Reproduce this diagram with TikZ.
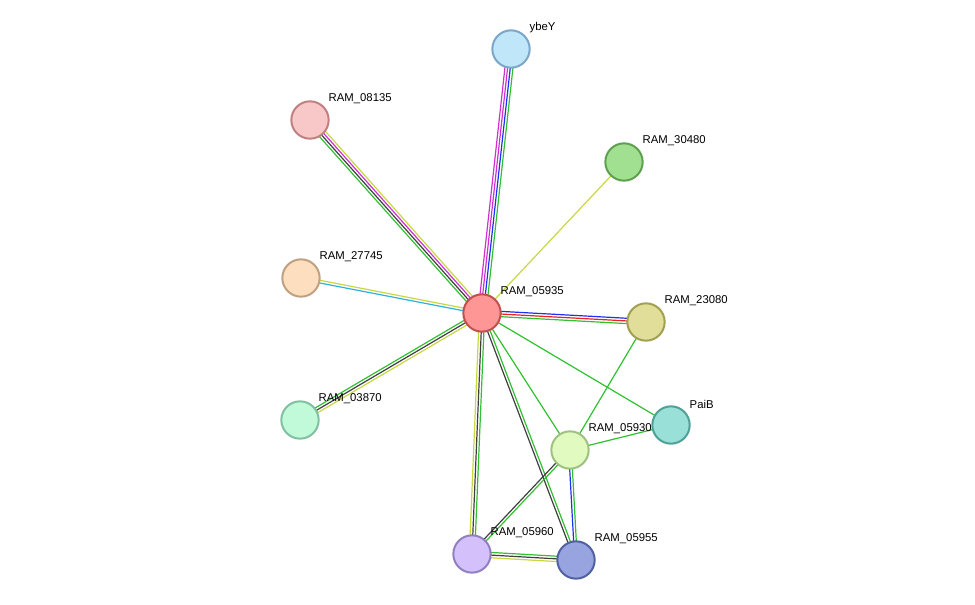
\documentclass[tikz,border=0pt]{standalone}
\usepackage{fontspec}
\setmainfont{Liberation Sans}
\usetikzlibrary{calc}
\definecolor{eyel}{HTML}{C8D840}
\definecolor{egrn}{HTML}{30C030}
\definecolor{eblu}{HTML}{2030F0}
\definecolor{eblk}{HTML}{404040}
\definecolor{emag}{HTML}{D030D0}
\definecolor{ered}{HTML}{F02020}
\definecolor{ecya}{HTML}{30B0E0}
\tikzset{
  prot/.style={circle,draw,line width=1.5pt,minimum size=28pt,inner sep=0pt},
  lbl/.style={anchor=west,font=\fontsize{8.5}{10}\selectfont}
}
\begin{document}
\begin{tikzpicture}[x=0.75pt,y=-0.75pt]
	\useasboundingbox (0,0) rectangle (975,605);
	\coordinate (c) at (482,313);
	\coordinate (ybeY) at (511,49);
	\coordinate (r08135) at (310,120);
	\coordinate (r30480) at (624,162);
	\coordinate (r27745) at (301,278);
	\coordinate (r23080) at (646,322);
	\coordinate (r03870) at (300,420);
	\coordinate (paiB) at (671,425);
	\coordinate (r05930) at (570,450);
	\coordinate (r05960) at (472,554);
	\coordinate (r05955) at (576,560);
	% edges
	\foreach \a/\b/\n/\cols in {c/ybeY/4/{egrn,eblu,emag,emag}, c/r08135/4/{eyel,emag,eblk,egrn},
		c/r30480/1/{eyel}, c/r27745/2/{eyel,ecya}, c/r23080/3/{egrn,ered,eblu},
		c/r03870/3/{egrn,eblk,eyel}, c/paiB/1/{egrn}, c/r05930/1/{egrn},
		c/r05960/3/{eyel,eblk,egrn}, c/r05955/2/{eblk,egrn}, r23080/r05930/1/{egrn},
		r05930/paiB/1/{egrn}, r05930/r05960/2/{eblk,egrn}, r05930/r05955/2/{eblu,egrn},
		r05960/r05955/3/{eyel,eblk,egrn}}
		\foreach \col [count=\i] in \cols
			\draw[\col,line width=0.9pt]
				($(\a)!{(\i-(\n+1)/2)*2pt}!90:(\b)$) -- ($(\b)!{(\i-(\n+1)/2)*2pt}!-90:(\a)$);
	% proteins
	\node[prot,fill={rgb,255:red,255;green,150;blue,150},draw={rgb,255:red,192;green,80;blue,80}] (n05935) at (c) {};
	\node[prot,fill={rgb,255:red,192;green,230;blue,250},draw={rgb,255:red,122;green,166;blue,200}] (nybeY) at (ybeY) {};
	\node[prot,fill={rgb,255:red,248;green,200;blue,200},draw={rgb,255:red,192;green,128;blue,128}] (n08135) at (r08135) {};
	\node[prot,fill={rgb,255:red,160;green,224;blue,144},draw={rgb,255:red,95;green,160;blue,80}] (n30480) at (r30480) {};
	\node[prot,fill={rgb,255:red,253;green,223;blue,192},draw={rgb,255:red,192;green,160;blue,128}] (n27745) at (r27745) {};
	\node[prot,fill={rgb,255:red,224;green,222;blue,152},draw={rgb,255:red,160;green,160;blue,80}] (n23080) at (r23080) {};
	\node[prot,fill={rgb,255:red,192;green,250;blue,216},draw={rgb,255:red,128;green,192;blue,160}] (n03870) at (r03870) {};
	\node[prot,fill={rgb,255:red,152;green,224;blue,216},draw={rgb,255:red,80;green,160;blue,152}] (npaiB) at (paiB) {};
	\node[prot,fill={rgb,255:red,224;green,250;blue,192},draw={rgb,255:red,160;green,192;blue,128}] (n05930) at (r05930) {};
	\node[prot,fill={rgb,255:red,212;green,192;blue,250},draw={rgb,255:red,144;green,128;blue,192}] (n05960) at (r05960) {};
	\node[prot,fill={rgb,255:red,152;green,164;blue,224},draw={rgb,255:red,80;green,96;blue,160}] (n05955) at (r05955) {};
	% labels
	\foreach \p/\t in {c/RAM\_05935, ybeY/ybeY, r08135/RAM\_08135, r30480/RAM\_30480,
		r27745/RAM\_27745, r23080/RAM\_23080, r03870/RAM\_03870, paiB/PaiB,
		r05930/RAM\_05930, r05960/RAM\_05960, r05955/RAM\_05955}
		\node[lbl] (l\p) at ($(\p)+(14,-21)$) {\t};
\end{tikzpicture}
\end{document}
